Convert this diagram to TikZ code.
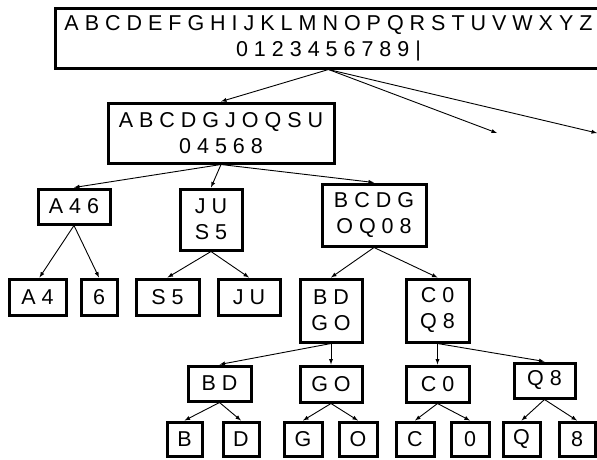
\documentclass[tikz,border=0pt]{standalone}
\usepackage{fontspec}
\setmainfont{Liberation Sans}
\usetikzlibrary{arrows}

\tikzset{
  bucket/.style={draw, line width=3pt, inner sep=0pt, align=center,
    font=\fontsize{21.5pt}{26pt}\selectfont},
  link/.style={->, >=latex, line width=0.9pt}
}

\begin{document}
\begin{tikzpicture}[x=1pt,y=-1pt]
\useasboundingbox (0,0) rectangle (597,459);
\clip (0,0) rectangle (597,459);

% root and first split
\node[bucket, minimum width=547pt, minimum height=60pt] (all) at (328.5,38)
  {A B C D E F G H I J K L M N O P Q R S T U V W X Y Z\\0 1 2 3 4 5 6 7 8 9 |};
\node[bucket, minimum width=226pt, minimum height=60pt] (abc) at (221,133)
  {A B C D G J O Q S U\\0 4 5 6 8};
\coordinate (rest1) at (497,133);
\coordinate (rest2) at (597,133);

\node[bucket, minimum width=72pt, minimum height=35pt] (a46) at (74,206.5) {A 4 6};
\node[bucket, minimum width=62pt, minimum height=61pt] (jus5) at (211,219.5) {J U\\S 5};
\node[bucket, minimum width=104pt, minimum height=62pt] (bcdg) at (374,215) {B C D G\\O Q 0 8};

\node[bucket, minimum width=57pt, minimum height=36pt] (a4) at (37.5,297) {A 4};
\node[bucket, minimum width=36pt, minimum height=36pt] (six) at (99,297) {6};
\node[bucket, minimum width=63pt, minimum height=36pt] (s5) at (167.5,297) {S 5};
\node[bucket, minimum width=62pt, minimum height=36pt] (ju) at (249,297) {J U};
\node[bucket, minimum width=62pt, minimum height=63pt] (bdgo) at (331,310.5) {B D\\G O};
\node[bucket, minimum width=63pt, minimum height=63pt] (c0q8) at (437.5,310.5) {C 0\\Q 8};

\node[bucket, minimum width=63pt, minimum height=35pt] (bd) at (219.5,383.5) {B D};
\node[bucket, minimum width=62pt, minimum height=36pt] (go) at (331,384) {G O};
\node[bucket, minimum width=63pt, minimum height=36pt] (c0) at (437.5,384) {C 0};
\node[bucket, minimum width=61pt, minimum height=35pt] (q8) at (544.5,380.5) {Q 8};

% leaves
\node[bucket, minimum width=35pt, minimum height=34pt] (b) at (184.5,439) {B};
\node[bucket, minimum width=36pt, minimum height=34pt] (d) at (241,439) {D};
\node[bucket, minimum width=38pt, minimum height=34pt] (g) at (303,439) {G};
\node[bucket, minimum width=38pt, minimum height=34pt] (o) at (358,439) {O};
\node[bucket, minimum width=38pt, minimum height=34pt] (c) at (415,439) {C};
\node[bucket, minimum width=38pt, minimum height=34pt] (zero) at (470,439) {0};
\node[bucket, minimum width=37pt, minimum height=34pt] (q) at (521.5,439) {Q};
\node[bucket, minimum width=36pt, minimum height=34pt] (eight) at (577,439) {8};

\draw[link] (all.south) -- (abc.north);
\draw[link] (all.south) -- (rest1);
\draw[link] (all.south) -- (rest2);

\draw[link] (abc.south) -- (a46.north);
\draw[link] (abc.south) -- (jus5.north);
\draw[link] (abc.south) -- (bcdg.north);

\draw[link] (a46.south) -- ([xshift=2pt]a4.north);
\draw[link] (a46.south) -- (six.north);
\draw[link] (jus5.south) -- (s5.north);
\draw[link] (jus5.south) -- (ju.north);
\draw[link] (bcdg.south) -- (bdgo.north);
\draw[link] (bcdg.south) -- (c0q8.north);

\draw[link] (bdgo.south) -- (bd.north);
\draw[link] (bdgo.south) -- (go.north);
\draw[link] (c0q8.south) -- (c0.north);
\draw[link] (c0q8.south) -- (q8.north);

\draw[link] (bd.south) -- (b.north);
\draw[link] (bd.south) -- (d.north);
\draw[link] (go.south) -- (g.north);
\draw[link] (go.south) -- (o.north);
\draw[link] (c0.south) -- (c.north);
\draw[link] (c0.south) -- (zero.north);
\draw[link] (q8.south) -- (q.north);
\draw[link] (q8.south) -- (eight.north);
\end{tikzpicture}
\end{document}
